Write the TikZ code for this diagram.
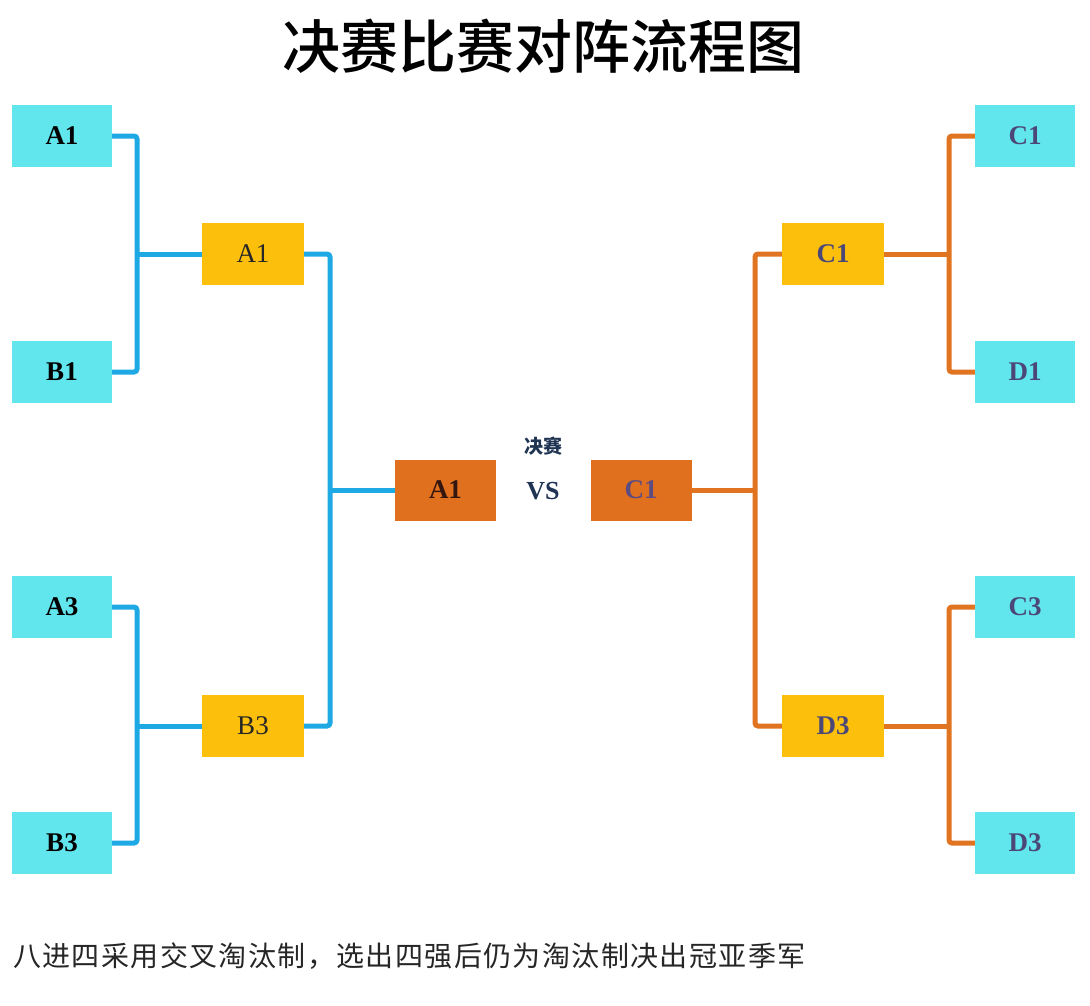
\documentclass[tikz,border=0pt]{standalone}
\usepackage{fontspec}
\setmainfont{Liberation Serif}
\newfontfamily\cjk{Noto Sans CJK SC}
\newfontfamily\cjkm{Noto Sans CJK SC Medium}
\newfontfamily\cjkls[LetterSpace=5]{Noto Sans CJK SC}
\definecolor{cyanbox}{RGB}{98,230,238}
\definecolor{yelbox}{RGB}{252,192,12}
\definecolor{orbox}{RGB}{224,112,30}
\definecolor{blueln}{RGB}{30,168,228}
\definecolor{orln}{RGB}{224,116,32}
\definecolor{slate}{RGB}{75,72,120}
\definecolor{navy}{RGB}{31,52,82}
\definecolor{maroon}{RGB}{52,22,14}
\definecolor{purp}{RGB}{92,76,130}
\tikzset{
  seed/.style={fill=cyanbox, minimum width=100pt, minimum height=62pt, inner sep=0pt, font=\fontsize{27}{27}\selectfont\bfseries},
  semi/.style={fill=yelbox, minimum width=102pt, minimum height=62pt, inner sep=0pt, font=\fontsize{27}{27}\selectfont},
  semib/.style={semi, font=\fontsize{27}{27}\selectfont\bfseries},
  final/.style={fill=orbox, minimum width=101pt, minimum height=61pt, inner sep=0pt, font=\fontsize{27}{27}\selectfont\bfseries},
  bl/.style={draw=blueln, line width=5pt, rounded corners=3pt},
  ol/.style={draw=orln, line width=5pt, rounded corners=3pt}
}
\begin{document}
\begin{tikzpicture}[x=1pt,y=-1pt]
\useasboundingbox (0,0) rectangle (1090,1005);
\fill[white] (0,0) rectangle (1090,1005);
% title
\node[font=\cjkm\fontsize{58}{58}\selectfont] (title) at (543,46) {决赛比赛对阵流程图};
% left side
\node[seed] (la1) at (62,136) {A1};
\node[seed] (lb1) at (62,372) {B1};
\node[seed] (la3) at (62,607) {A3};
\node[seed] (lb3) at (62,843) {B3};
\node[semi, text=black!85] (sa1) at (253,254) {A1};
\node[semi, text=black!85] (sb3) at (253,726) {B3};
\node[final, text=maroon] (fa1) at (445.5,490) {A1};
% right side
\node[seed, text=slate] (rc1) at (1025,136) {C1};
\node[seed, text=slate] (rd1) at (1025,372) {D1};
\node[seed, text=slate] (rc3) at (1025,607) {C3};
\node[seed, text=slate] (rd3) at (1025,843) {D3};
\node[semib, text=slate] (sc1) at (833,254) {C1};
\node[semib, text=slate] (sd3) at (833,726) {D3};
\node[final, text=purp] (fc1) at (641,490) {C1};
% center labels
\node[text=navy, font=\fontsize{26}{26}\selectfont\bfseries] (vs) at (543,491) {VS};
\node[text=navy, font=\cjk\bfseries\fontsize{19}{19}\selectfont] (jue) at (543,446) {决赛};
% left connectors
\coordinate (j1) at (137,254);
\coordinate (j2) at (137,726);
\coordinate (j3) at (330,490);
\draw[bl] (la1.east) -| (j1) |- (lb1.east);
\draw[bl] (j1) -- (sa1.west);
\draw[bl] (la3.east) -| (j2) |- (lb3.east);
\draw[bl] (j2) -- (sb3.west);
\draw[bl] (sa1.east) -| (j3) |- (sb3.east);
\draw[bl] (j3) -- (fa1.west);
% right connectors
\coordinate (k1) at (949,254);
\coordinate (k2) at (949,726);
\coordinate (k3) at (755,490);
\draw[ol] (rc1.west) -| (k1) |- (rd1.west);
\draw[ol] (k1) -- (sc1.east);
\draw[ol] (rc3.west) -| (k2) |- (rd3.west);
\draw[ol] (k2) -- (sd3.east);
\draw[ol] (sc1.west) -| (k3) |- (sd3.west);
\draw[ol] (k3) -- (fc1.east);
% footer
\node[anchor=west, text=black!85, font=\cjkls\fontsize{28}{28}\selectfont, inner sep=0pt] (foot) at (13,956) {八进四采用交叉淘汰制，选出四强后仍为淘汰制决出冠亚季军};
\end{tikzpicture}
\end{document}
